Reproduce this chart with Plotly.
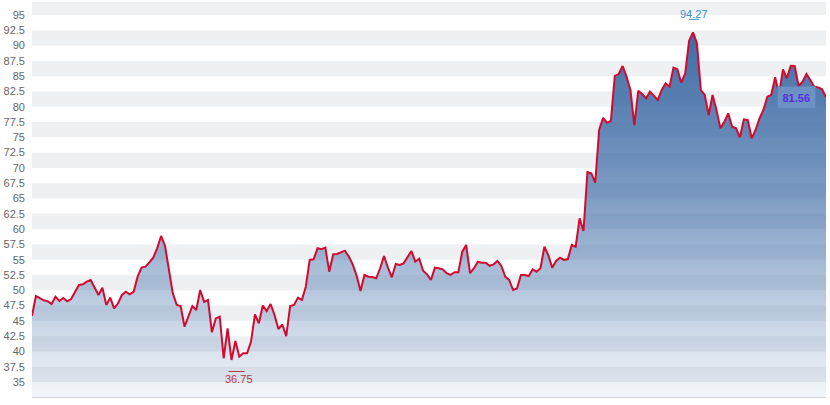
import plotly.graph_objects as go

# closing values (one per trading day)
close = [
    45.84, 49.06, 48.7, 48.36, 48.2, 47.75, 48.95, 48.25, 48.74, 48.2,
    48.57, 49.66, 50.86, 50.97, 51.4, 51.68, 50.33, 49.23, 50.42, 47.6,
    48.8, 47.05, 47.87, 49.23, 49.77, 49.34, 49.77, 52.22, 53.7, 53.86,
    54.57, 55.33, 56.86, 58.87, 57.29, 53.6, 49.5, 47.6, 47.43, 44.04,
    45.68, 47.43, 46.77, 50.04,
    48.1, 48.4, 43.13, 45.4, 45.68, 38.88, 43.78, 38.6, 41.7, 39.14,
    39.7, 39.7, 41.6, 46.07, 44.6, 47.5, 46.6, 47.75, 45.96, 43.67,
    44.4, 42.5, 47.43, 47.6, 48.8, 48.4, 50.58, 54.95, 55.06, 56.86,
    56.7, 56.96, 53.04, 55.88, 55.93, 56.2, 56.47, 55.5, 54.24, 52.38,
    49.88, 52.5, 52.22, 52.17, 51.95, 53.6, 55.6, 53.7, 52.12, 54.3,
    54.13,
    54.4, 55.33, 56.42, 54.67, 55.16, 53.2, 52.6, 51.68, 53.7, 53.6,
    53.43, 52.78, 52.5, 52.94, 52.94, 56.3, 57.4, 52.78, 53.6, 54.67,
    54.5, 54.5, 54.0, 54.24, 54.8, 53.97, 52.22, 51.68, 50.04, 50.3,
    52.5, 52.5, 52.33, 53.43, 53.04, 53.6, 57.12, 55.76, 53.7, 54.8,
    55.33, 54.95, 55.1, 57.4, 57.12, 61.76, 59.69, 69.3, 69.1, 67.6,
    76.2, 78.2, 77.4, 77.67, 85.03, 85.35, 86.66, 84.92, 82.74, 77.0,
    82.63, 82.09, 81.38, 82.47, 81.76, 81.1, 82.74, 83.83, 83.28, 86.39,
    86.12, 83.93, 85.47, 90.8, 92.17, 90.37, 82.74, 81.92, 78.65, 81.92,
    79.47, 76.47, 77.56, 78.93, 76.74, 76.47, 75.0, 77.95, 77.83, 74.84,
    76.2, 78.11, 79.47, 81.65, 81.92, 84.81, 82.04, 86.12, 84.65, 86.71,
    86.66, 83.39, 84.1, 85.35, 84.37, 83.28, 83.17, 82.85, 81.56,
]

tick_vals = [35, 37.5, 40, 42.5, 45, 47.5, 50, 52.5, 55, 57.5, 60, 62.5, 65,
             67.5, 70, 72.5, 75, 77.5, 80, 82.5, 85, 87.5, 90, 92.5, 95]
tick_text = ["35", "37.5", "40", "42.5", "45", "47.5", "50", "52.5", "55",
             "57.5", "60", "62.5", "65", "67.5", "70", "72.5", "75", "77.5",
             "80", "82.5", "85", "87.5", "90", "92.5", "95"]

high_label = "94.27"
low_label = "36.75"
last_label = "81.56"

x = list(range(len(close)))
y_min, y_max = 32.55, 97.125
i_hi = max(range(len(close)), key=lambda i: close[i])
i_lo = min(range(len(close)), key=lambda i: close[i])
i_last = len(close) - 1

FONT = "Liberation Sans, Arial, sans-serif"

fig = go.Figure()
fig.add_trace(go.Scatter(
    x=x, y=close, mode="lines",
    line=dict(color="#d10a30", width=2),
    fill="tozeroy",
    fillgradient=dict(
        type="vertical",
        colorscale=[[0, "rgba(72,116,172,0.06)"],
                    [0.3, "rgba(68,112,170,0.40)"],
                    [0.55, "rgba(66,110,168,0.68)"],
                    [1, "rgba(60,106,164,0.98)"]],
        start=y_min, stop=92,
    ),
    hoverinfo="skip", showlegend=False,
))

shapes = []
# alternating grid bands
for k in range(0, len(tick_vals), 2):
    lo = tick_vals[k]
    hi = lo + 2.5
    shapes.append(dict(type="rect", xref="paper", yref="y", x0=0, x1=1,
                       y0=lo, y1=hi, fillcolor="#eff0f2", line=dict(width=0),
                       layer="below"))
# small rules next to the high / low labels
shapes.append(dict(type="line", xref="x", yref="y",
                   xsizemode="pixel", xanchor=i_hi, x0=-4, x1=6,
                   ysizemode="pixel", yanchor=close[i_hi], y0=13, y1=13,
                   line=dict(color="#3d8ec9", width=1)))
shapes.append(dict(type="line", xref="x", yref="y",
                   xsizemode="pixel", xanchor=i_lo, x0=-3, x1=13,
                   ysizemode="pixel", yanchor=close[i_lo], y0=-11.5, y1=-11.5,
                   line=dict(color="#b03a48", width=1)))

annotations = [
    dict(x=i_hi, y=close[i_hi], xref="x", yref="y", text=high_label,
         showarrow=False, yanchor="middle", yshift=18, xshift=1,
         font=dict(family=FONT, size=11, color="#3d8ec9")),
    dict(x=i_lo, y=close[i_lo], xref="x", yref="y", text=low_label,
         showarrow=False, yanchor="middle", yshift=-19.5, xshift=8,
         font=dict(family=FONT, size=11, color="#b03a48")),
    dict(x=i_last, y=close[i_last], xref="x", yref="y",
         text="<b>" + last_label + "</b>",
         showarrow=False, xanchor="right", yanchor="middle", xshift=-10,
         bgcolor="rgba(108,148,196,0.92)", bordercolor="rgba(92,132,182,0.9)",
         borderwidth=1, borderpad=4.5,
         font=dict(family=FONT, size=11, color="#5a2de0")),
]

fig.update_layout(
    width=830, height=405,
    margin=dict(l=32, r=4, t=2, b=8),
    plot_bgcolor="white", paper_bgcolor="white",
    shapes=shapes, annotations=annotations,
    xaxis=dict(range=[0, i_last], showgrid=False, zeroline=False,
               showticklabels=False, ticks="", showline=True,
               linecolor="#cfd3d8", linewidth=1),
    yaxis=dict(range=[y_min, y_max], tickvals=tick_vals, ticktext=tick_text,
               showgrid=False, zeroline=False, ticks="",
               ticklabelstandoff=6,
               tickfont=dict(family=FONT, size=11, color="#666666")),
    font=dict(family=FONT),
)

fig.write_html("out.html",
               config={"displayModeBar": False},
               post_script="document.body.style.margin='0px';")
